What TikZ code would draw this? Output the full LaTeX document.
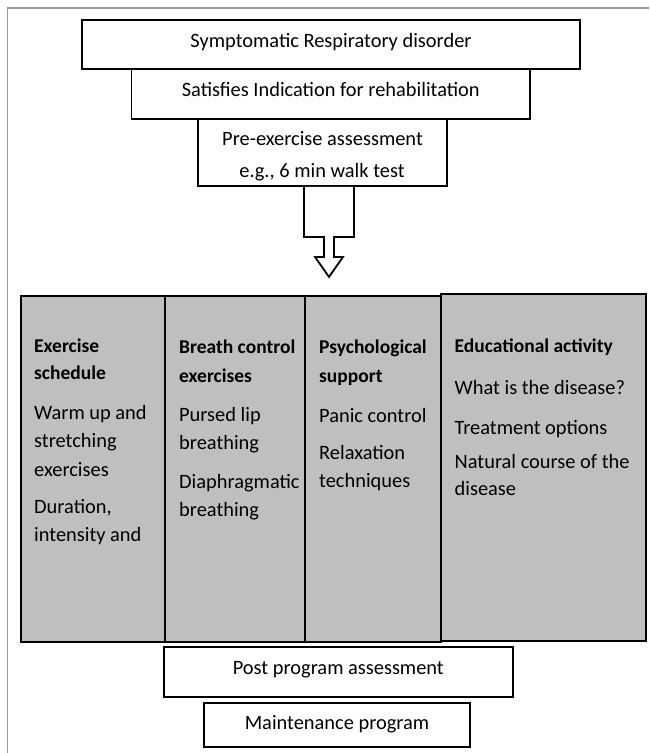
\documentclass[tikz,border=0pt]{standalone}
\usepackage{fontspec}
\setmainfont{Carlito}
\definecolor{colgray}{RGB}{191,191,191}
\definecolor{framecol}{RGB}{155,155,155}
\begin{document}
\begin{tikzpicture}[x=1pt,y=-1pt,
  box/.style={draw=black,line width=1.8pt,fill=white,inner sep=0pt,font=\fontsize{20.4}{24}\selectfont,text depth=5pt},
  col/.style={draw=black,line width=1.8pt,fill=colgray,anchor=north west,inner sep=0pt},
  ctr/.style={anchor=base,inner sep=0pt,font=\fontsize{20.4}{24}\selectfont},
  txt/.style={anchor=base west,inner sep=0pt,font=\fontsize{20.4}{24}\selectfont},
  hd/.style={anchor=base west,inner sep=0pt,font=\fontsize{19.5}{24}\selectfont\bfseries},
  arr/.style={draw=black,line width=1.8pt,fill=white,line join=miter}]
\useasboundingbox (0,0) rectangle (649,753);
\draw[framecol,line width=1.2pt] (7.3,753) -- (7.3,8) -- (649,8);

% top boxes
\node[box,minimum width=498pt,minimum height=49pt,text height=10pt] (b1) at (331,44.5) {Symptomatic Respiratory disorder};
\node[box,minimum width=398.5pt,minimum height=50pt,text height=9pt] (b2) at (330.8,94) {Satisfies Indication for rehabilitation};
\node[box,minimum width=249pt,minimum height=67pt] (b3) at (322.5,152.5) {};
\node[ctr] (t3a) at (322.5,145) {Pre-exercise assessment};
\node[ctr] (t3b) at (322,177) {e.g., 6 min walk test};

% block arrow
\coordinate (at) at ([xshift=6.5pt]b3.south);
\draw[arr] ([xshift=-25pt]at) -- ++(0,50) -- ++(20,0) -- ++(0,20) -- ++(-9,0) -- ++(14,20)
  -- ++(14,-20) -- ++(-9,0) -- ++(0,-20) -- ++(20,0) -- ++(0,-50);

% columns
\node[col,minimum width=144pt,minimum height=346pt] (ca) at (20,295) {};
\node[col,minimum width=140pt,minimum height=346pt] (cb) at (164,295) {};
\node[col,minimum width=136pt,minimum height=346pt] (cc) at (304,295) {};
\node[col,minimum width=205pt,minimum height=347pt] (cd) at (440,293) {};

% column A
\node[hd]  (a1) at (34,352) {Exercise};
\node[hd]  (a2) at (34,379) {schedule};
\node[txt] (a3) at (34,419) {Warm up and};
\node[txt] (a4) at (34,447) {stretching};
\node[txt] (a5) at (34,476) {exercises};
\node[txt] (a6) at (34,513) {Duration,};
\node[txt] (a7) at (34,541) {intensity and};
% column B
\node[hd]  (bb1) at (179,353) {Breath control};
\node[hd]  (bb2) at (179,382) {exercises};
\node[txt] (bb3) at (179,421) {Pursed lip};
\node[txt] (bb4) at (179,449) {breathing};
\node[txt] (bb5) at (179,488) {Diaphragmatic};
\node[txt] (bb6) at (179,516) {breathing};
% column C
\node[hd]  (c1) at (319,353) {Psychological};
\node[hd]  (c2) at (319,382) {support};
\node[txt] (c3) at (319,422) {Panic control};
\node[txt] (c4) at (319,459) {Relaxation};
\node[txt] (c5) at (319,487) {techniques};
% column D
\node[hd]  (d1) at (454.5,352) {Educational activity};
\node[txt] (d2) at (454.5,394) {What is the disease?};
\node[txt] (d3) at (454.5,434) {Treatment options};
\node[txt] (d4) at (454.5,468) {Natural course of the};
\node[txt] (d5) at (454.5,495) {disease};

% bottom boxes
\node[box,minimum width=349pt,minimum height=50pt,text height=9pt] (p1) at (338.3,672) {Post program assessment};
\node[box,minimum width=266pt,minimum height=44pt,text height=13pt] (m1) at (337,725) {Maintenance program};
\end{tikzpicture}
\end{document}
